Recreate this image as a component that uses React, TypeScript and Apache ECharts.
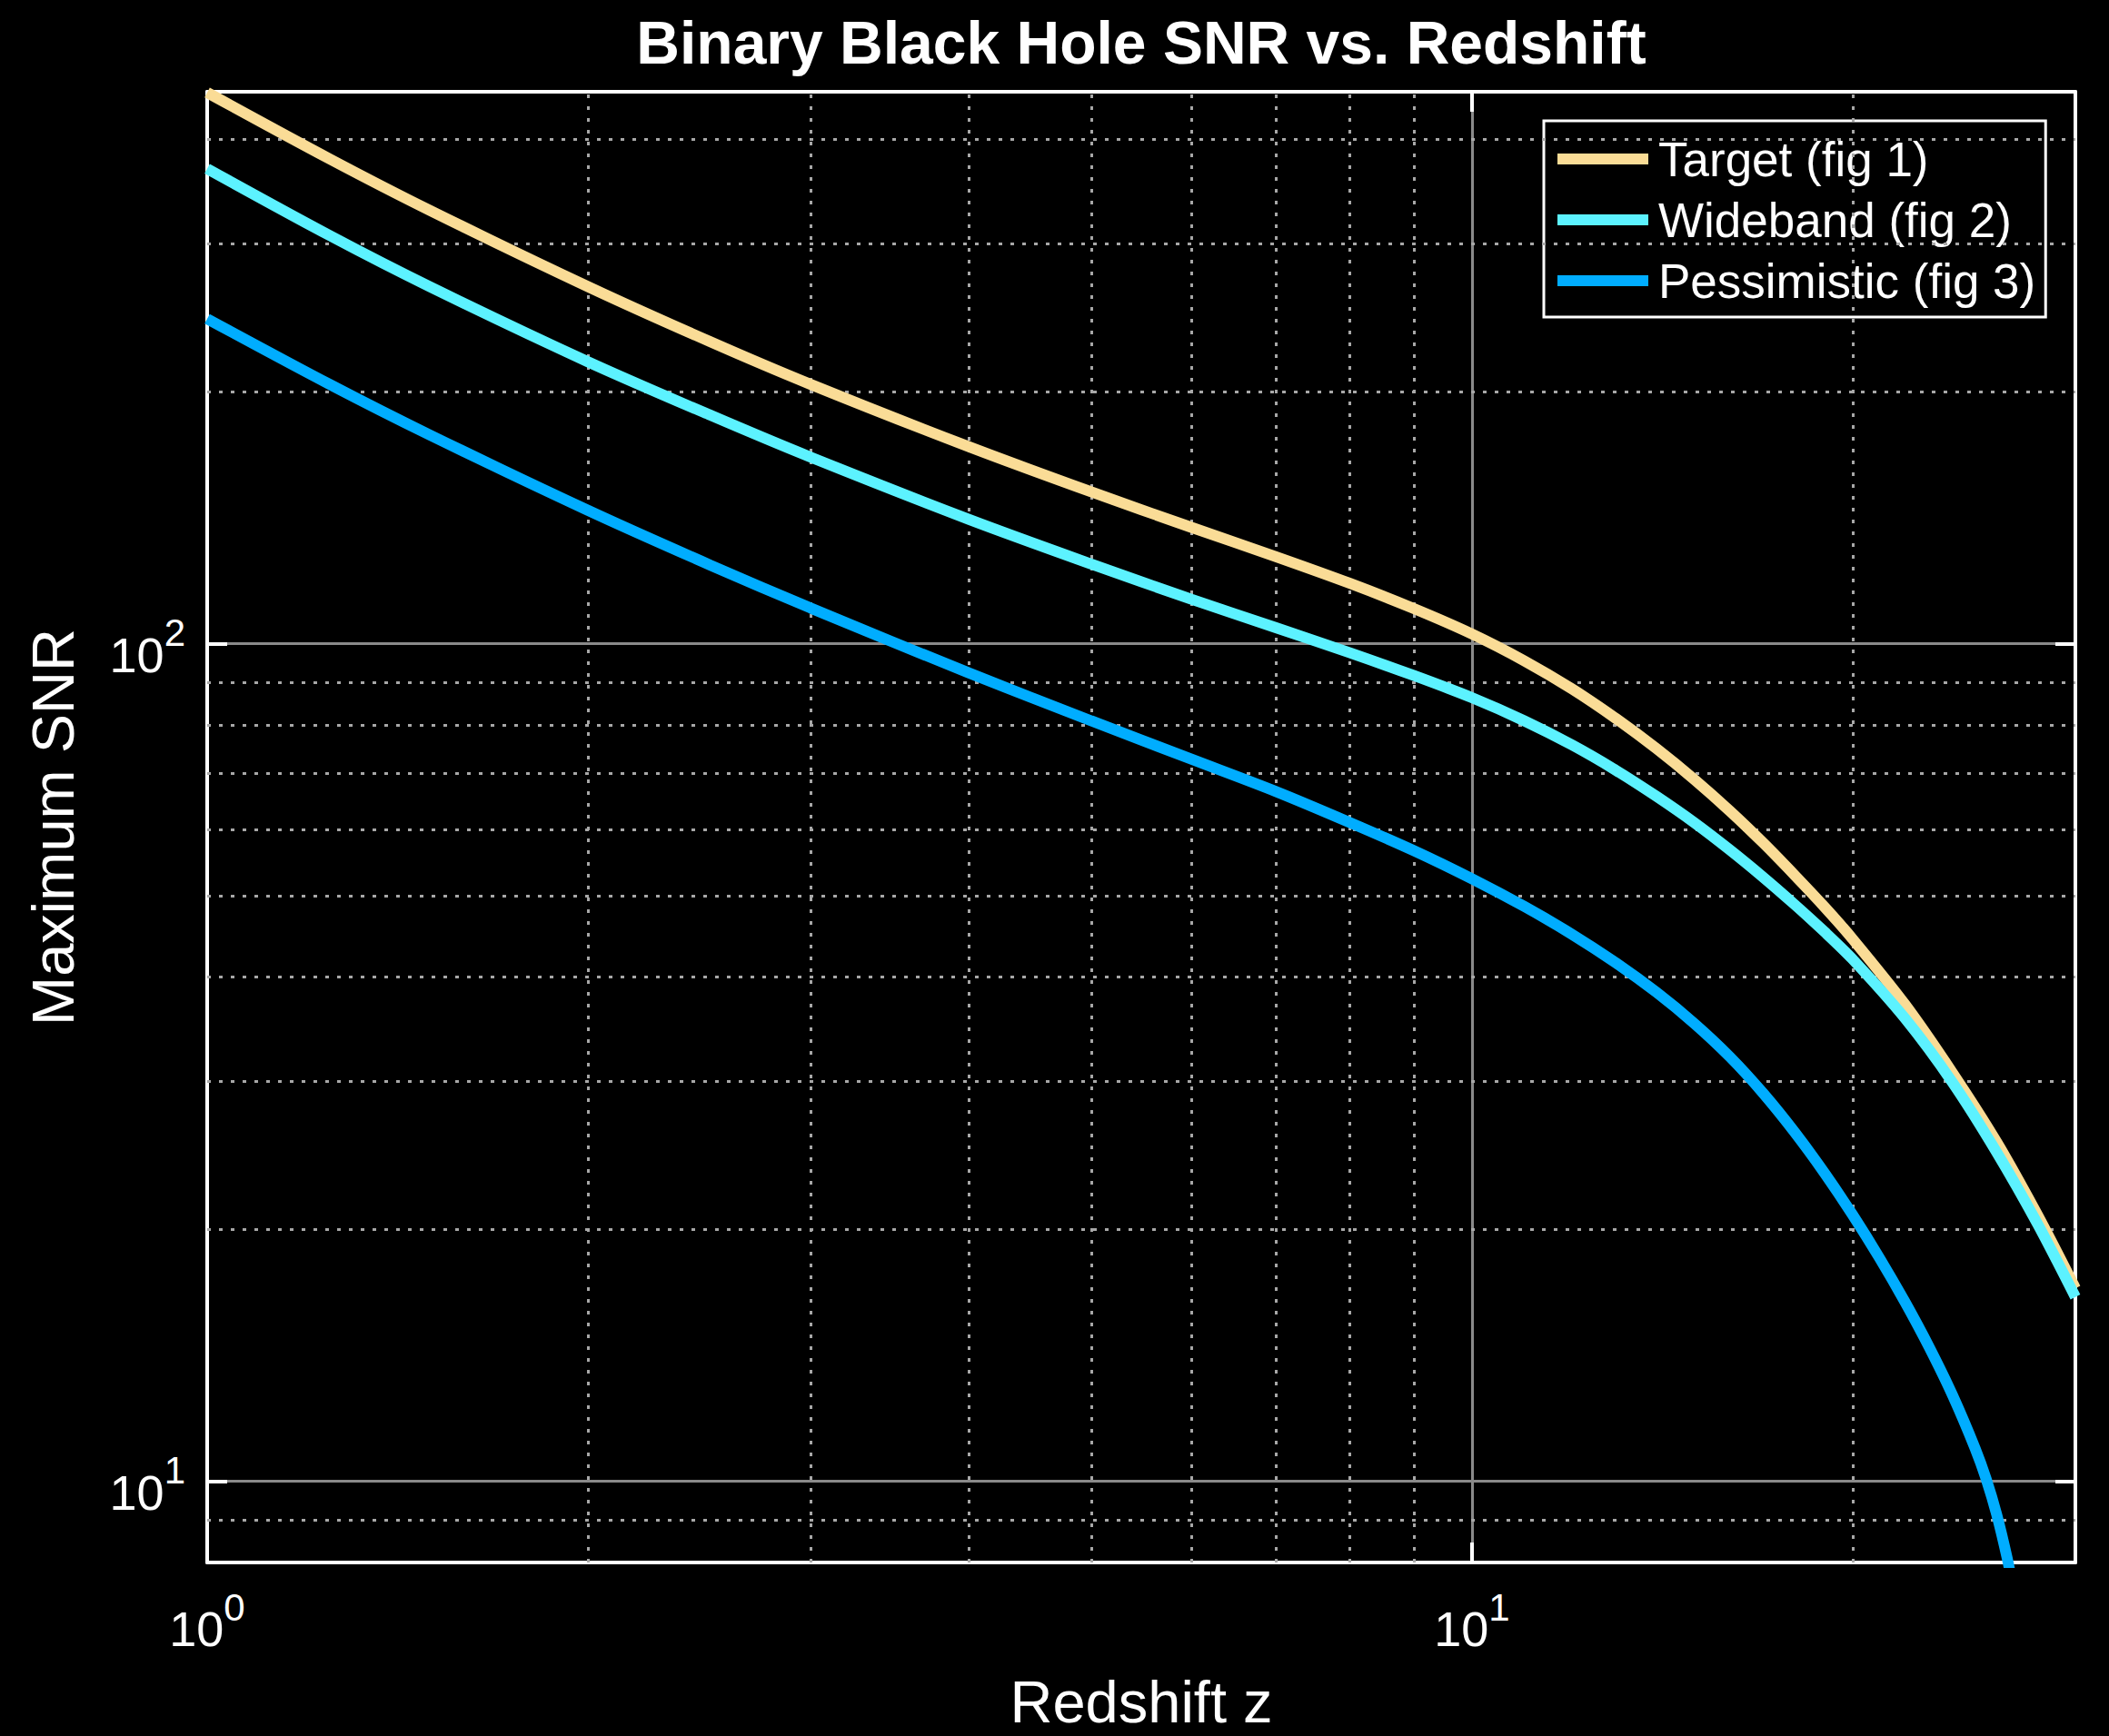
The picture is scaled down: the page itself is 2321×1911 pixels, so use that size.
import React, { useEffect, useRef } from "react";
import * as echarts from "echarts";

// Redshift samples shared by the Target and Wideband curves
const redshift = [1, 1.25, 1.5, 2, 2.5, 3, 4, 5, 6, 7, 8, 9, 10, 11, 12, 13, 14, 15, 16, 17, 18, 19, 20, 22, 24, 26, 28, 30];
const targetSNR = [455, 379.1, 329.1, 266.9, 229.3, 204.0, 171.9, 151.8, 137.7, 127.0, 118.1, 110.1, 102.7, 95.4, 88.3, 81.4, 74.9, 68.8, 63.1, 57.8, 52.9, 48.5, 44.4, 37.1, 30.7, 25.4, 20.8, 17.0];
const widebandSNR = [369, 307.1, 266.8, 217.1, 187.4, 167.0, 140.8, 124.5, 113.0, 104.5, 97.6, 91.6, 86.2, 80.9, 75.7, 70.6, 65.7, 61.1, 56.7, 52.6, 48.8, 45.3, 42.0, 35.7, 29.9, 24.7, 20.3, 16.6];

// The Pessimistic curve drops out through the bottom of the plot
const pessimisticRedshift = [1, 1.25, 1.5, 2, 2.5, 3, 4, 5, 6, 7, 8, 9, 10, 11, 12, 13, 14, 15, 16, 17, 18, 19, 20, 21, 22, 23, 24, 25, 25.5, 26, 26.5, 26.8];
const pessimisticSNR = [244.3, 204.0, 177.5, 144.3, 124.1, 110.3, 92.3, 80.9, 72.8, 66.6, 61.2, 56.6, 52.4, 48.56, 44.98, 41.58, 38.33, 35.18, 32.1, 29.04, 26.1, 23.34, 20.8, 18.48, 16.37, 14.44, 12.65, 10.94, 10.07, 9.12, 8.09, 7.43];

const seriesNames = ["Target (fig 1)", "Wideband (fig 2)", "Pessimistic (fig 3)"];
const seriesColors = ["#FADC96", "#5CF2FF", "#00ADFF"];

// Axis limits
const xRange = [1, 30];
const yRange = [8, 456];

// Minor (dotted) grid positions of the log axes
const minorGridX = [2, 3, 4, 5, 6, 7, 8, 9, 20];
const minorGridY = [9, 20, 30, 40, 50, 60, 70, 80, 90, 200, 300, 400];

const FONT = "'Liberation Sans', Arial, Helvetica, sans-serif";

const pairs = (xs: number[], ys: number[]) => xs.map((x, i) => [x, ys[i]]);

// Only decades get a label, written as 10 with a raised exponent
const powerLabel = (v: number) => {
  const e = Math.round(Math.log10(v));
  if (Math.abs(v - Math.pow(10, e)) > 1e-6 * v) return "";
  return `{b|10}{s|${e}}`;
};

const tickRich = {
  b: { fontSize: 54, color: "#fff", fontFamily: FONT, padding: [24, 0, 0, 0] },
  s: { fontSize: 42, color: "#fff", fontFamily: FONT, padding: [0, 0, 24, 0] },
};

export default function App() {
  const ref = useRef<HTMLDivElement>(null);

  useEffect(() => {
    document.body.style.background = "#000";
    const chart = echarts.init(ref.current!, undefined, { renderer: "svg" });

    const boxAxisLine = { show: true, lineStyle: { color: "#fff", width: 4 } };
    const majorTick = { show: true, inside: true, length: 22, lineStyle: { color: "#fff", width: 4 } };

    const curve = (name: string, data: number[][], color: string, z: number) => ({
      name,
      type: "line",
      data,
      showSymbol: false,
      smooth: 0.3,
      z,
      color,
      lineStyle: { width: 12, color },
    });

    const option: any = {
      animation: false,
      backgroundColor: "#000",
      graphic: [
        {
          type: "text",
          x: 1256,
          y: 47,
          style: {
            text: "Binary Black Hole SNR vs. Redshift",
            fill: "#fff",
            font: `bold 66px ${FONT}`,
            textAlign: "center",
            textVerticalAlign: "middle",
          },
        },
      ],
      grid: { left: 228, right: 37, top: 101, bottom: 191, outerBoundsMode: "none" },
      legend: {
        data: seriesNames,
        orient: "vertical",
        left: 1699,
        top: 133,
        padding: [12, 11, 10, 15],
        itemGap: 7,
        itemWidth: 100,
        itemHeight: 12,
        icon: "rect",
        backgroundColor: "#000",
        borderColor: "#fff",
        borderWidth: 3,
        borderRadius: 0,
        textStyle: { color: "#fff", fontSize: 53, fontFamily: FONT, lineHeight: 60, padding: [0, 0, 0, 6] },
      },
      xAxis: [
        {
          type: "log",
          logBase: 10,
          min: xRange[0],
          max: xRange[1],
          name: "Redshift z",
          nameLocation: "middle",
          nameGap: 120,
          nameTextStyle: { color: "#fff", fontSize: 65, fontFamily: FONT, lineHeight: 66 },
          axisLine: boxAxisLine,
          axisTick: majorTick,
          axisLabel: { color: "#fff", margin: 22, formatter: powerLabel, rich: tickRich },
          splitLine: { show: true, lineStyle: { color: "#8a8a8a", width: 3 } },
        },
        {
          type: "log",
          logBase: 10,
          min: xRange[0],
          max: xRange[1],
          position: "top",
          axisLine: boxAxisLine,
          axisTick: majorTick,
          axisLabel: { show: false },
          splitLine: { show: false },
        },
      ],
      yAxis: [
        {
          type: "log",
          logBase: 10,
          min: yRange[0],
          max: yRange[1],
          name: "Maximum SNR",
          nameLocation: "middle",
          nameRotate: 90,
          nameGap: 137,
          nameTextStyle: { color: "#fff", fontSize: 65, fontFamily: FONT },
          axisLine: boxAxisLine,
          axisTick: majorTick,
          axisLabel: { color: "#fff", margin: 24, formatter: powerLabel, rich: tickRich },
          splitLine: { show: true, lineStyle: { color: "#8a8a8a", width: 3 } },
        },
        {
          type: "log",
          logBase: 10,
          min: yRange[0],
          max: yRange[1],
          position: "right",
          axisLine: boxAxisLine,
          axisTick: majorTick,
          axisLabel: { show: false },
          splitLine: { show: false },
        },
      ],
      series: [
        {
          name: "minor-grid",
          type: "line",
          data: [],
          z: 1,
          silent: true,
          markLine: {
            silent: true,
            symbol: ["none", "none"],
            label: { show: false },
            lineStyle: { color: "#a8a8a8", width: 3, type: [4, 9] },
            data: [
              ...minorGridX.map((v) => ({ xAxis: v })),
              ...minorGridY.map((v) => ({ yAxis: v })),
            ],
          },
        },
        curve(seriesNames[0], pairs(redshift, targetSNR), seriesColors[0], 5),
        curve(seriesNames[1], pairs(redshift, widebandSNR), seriesColors[1], 6),
        curve(seriesNames[2], pairs(pessimisticRedshift, pessimisticSNR), seriesColors[2], 7),
      ],
    };

    chart.setOption(option);
    return () => chart.dispose();
  }, []);

  return (
    <div
      ref={ref}
      style={{ position: "absolute", left: 0, top: 0, width: 2321, height: 1911, background: "#000" }}
    />
  );
}
